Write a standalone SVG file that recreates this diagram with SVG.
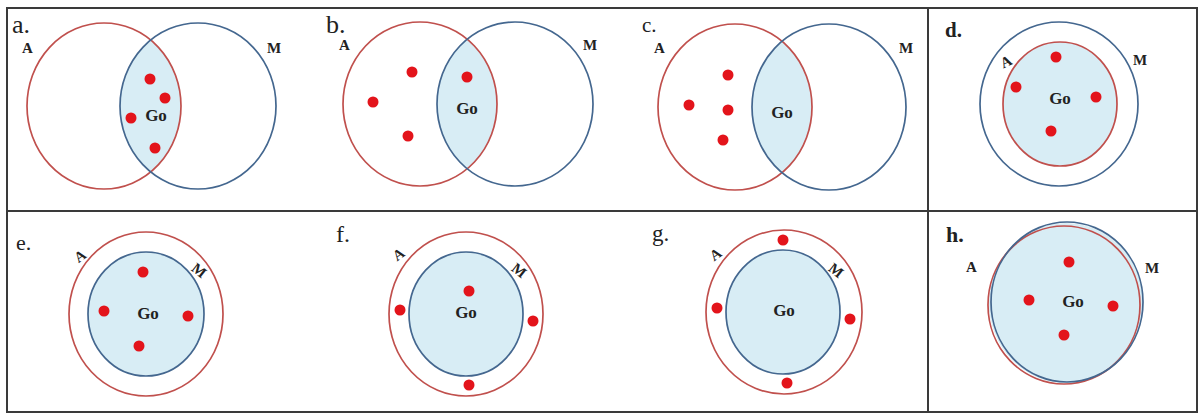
<svg xmlns="http://www.w3.org/2000/svg" width="1199" height="415" viewBox="0 0 1199 415">
<style>
.frame{fill:none;stroke:#3a3a3a;stroke-width:2}
.ra{fill:none;stroke:#c0504d;stroke-width:1.7}
.bm{fill:none;stroke:#44678f;stroke-width:1.7}
.fill{fill:#d8edf5;stroke:none}
.dot{fill:#e3141b}
.lbl{font-family:"Liberation Serif",serif;font-weight:bold;font-size:15px;fill:#222}
.go{font-family:"Liberation Serif",serif;font-weight:bold;font-size:17px;fill:#222;text-anchor:middle}
.pl{font-family:"Liberation Serif",serif;fill:#222}
</style>
<defs>
<clipPath id="ca"><ellipse cx="104" cy="106" rx="77" ry="83"/></clipPath>
<clipPath id="cb"><ellipse cx="420" cy="104" rx="77" ry="82"/></clipPath>
<clipPath id="cc"><ellipse cx="735" cy="107" rx="77" ry="83"/></clipPath>
</defs>
<rect width="1199" height="415" fill="#fff"/>
<g id="frame">
<rect class="frame" x="7" y="8" width="1190" height="404"/>
<line class="frame" x1="7" y1="211" x2="1197" y2="211"/>
<line class="frame" x1="928" y1="8" x2="928" y2="412"/>
</g>
<g id="panel-a">
<ellipse class="fill" cx="198" cy="106" rx="78" ry="83" clip-path="url(#ca)"/>
<ellipse class="ra" cx="104" cy="106" rx="77" ry="83"/>
<ellipse class="bm" cx="198" cy="106" rx="78" ry="83"/>
<text class="pl" x="12" y="33" font-size="26">a.</text>
<text class="lbl" x="22" y="53">A</text>
<text class="lbl" x="267" y="53">M</text>
<text class="go" x="156" y="121">Go</text>
<circle class="dot" cx="150" cy="79" r="5.5"/>
<circle class="dot" cx="165" cy="98" r="5.5"/>
<circle class="dot" cx="131" cy="118" r="5.5"/>
<circle class="dot" cx="155" cy="148" r="5.5"/>
</g>
<g id="panel-b">
<ellipse class="fill" cx="515" cy="104" rx="78" ry="82" clip-path="url(#cb)"/>
<ellipse class="ra" cx="420" cy="104" rx="77" ry="82"/>
<ellipse class="bm" cx="515" cy="104" rx="78" ry="82"/>
<text class="pl" x="326" y="33" font-size="26">b.</text>
<text class="lbl" x="339" y="50">A</text>
<text class="lbl" x="583" y="50">M</text>
<text class="go" x="467" y="114">Go</text>
<circle class="dot" cx="412" cy="72" r="5.5"/>
<circle class="dot" cx="373" cy="102" r="5.5"/>
<circle class="dot" cx="408" cy="136" r="5.5"/>
<circle class="dot" cx="467" cy="77" r="5.5"/>
</g>
<g id="panel-c">
<ellipse class="fill" cx="829" cy="107" rx="77" ry="83" clip-path="url(#cc)"/>
<ellipse class="ra" cx="735" cy="107" rx="77" ry="83"/>
<ellipse class="bm" cx="829" cy="107" rx="77" ry="83"/>
<text class="pl" x="642" y="32" font-size="21">c.</text>
<text class="lbl" x="654" y="53">A</text>
<text class="lbl" x="899" y="53">M</text>
<text class="go" x="782" y="118">Go</text>
<circle class="dot" cx="728" cy="75" r="5.5"/>
<circle class="dot" cx="689" cy="105" r="5.5"/>
<circle class="dot" cx="728" cy="110" r="5.5"/>
<circle class="dot" cx="723" cy="140" r="5.5"/>
</g>
<g id="panel-d">
<ellipse class="bm" cx="1059" cy="104" rx="79" ry="82"/>
<ellipse class="fill" cx="1060" cy="104" rx="57" ry="62"/>
<ellipse class="ra" cx="1060" cy="104" rx="57" ry="62"/>
<text class="pl" x="945" y="37" font-size="21" font-weight="bold">d.</text>
<text class="lbl" x="1000" y="66" transform="rotate(-25 1007 60)">A</text>
<text class="lbl" x="1133" y="65">M</text>
<text class="go" x="1060" y="104">Go</text>
<circle class="dot" cx="1056" cy="57" r="5.5"/>
<circle class="dot" cx="1016" cy="87" r="5.5"/>
<circle class="dot" cx="1096" cy="97" r="5.5"/>
<circle class="dot" cx="1051" cy="131" r="5.5"/>
</g>
<g id="panel-e">
<ellipse class="ra" cx="146" cy="314" rx="77" ry="82"/>
<ellipse class="fill" cx="146" cy="314" rx="58" ry="62"/>
<ellipse class="bm" cx="146" cy="314" rx="58" ry="62"/>
<text class="pl" x="16" y="250" font-size="22">e.</text>
<text class="lbl" x="74" y="261" transform="rotate(-35 80 255)">A</text>
<text class="lbl" x="192" y="276" transform="rotate(38 200 271)">M</text>
<text class="go" x="148" y="319">Go</text>
<circle class="dot" cx="143" cy="272" r="5.5"/>
<circle class="dot" cx="104" cy="311" r="5.5"/>
<circle class="dot" cx="188" cy="316" r="5.5"/>
<circle class="dot" cx="139" cy="346" r="5.5"/>
</g>
<g id="panel-f">
<ellipse class="ra" cx="466" cy="314" rx="77" ry="82"/>
<ellipse class="fill" cx="466" cy="314" rx="57" ry="62"/>
<ellipse class="bm" cx="466" cy="314" rx="57" ry="62"/>
<text class="pl" x="336" y="242" font-size="24">f.</text>
<text class="lbl" x="393" y="259" transform="rotate(-35 399 254)">A</text>
<text class="lbl" x="512" y="276" transform="rotate(38 520 271)">M</text>
<text class="go" x="466" y="318">Go</text>
<circle class="dot" cx="469" cy="291" r="5.5"/>
<circle class="dot" cx="400" cy="310" r="5.5"/>
<circle class="dot" cx="533" cy="321" r="5.5"/>
<circle class="dot" cx="469" cy="385" r="5.5"/>
</g>
<g id="panel-g">
<ellipse class="ra" cx="784" cy="312" rx="78" ry="82"/>
<ellipse class="fill" cx="783" cy="312" rx="57" ry="62"/>
<ellipse class="bm" cx="783" cy="312" rx="57" ry="62"/>
<text class="pl" x="652" y="241" font-size="23">g.</text>
<text class="lbl" x="710" y="259" transform="rotate(-35 716 254)">A</text>
<text class="lbl" x="829" y="276" transform="rotate(38 837 271)">M</text>
<text class="go" x="784" y="316">Go</text>
<circle class="dot" cx="783" cy="240" r="5.5"/>
<circle class="dot" cx="717" cy="308" r="5.5"/>
<circle class="dot" cx="850" cy="319" r="5.5"/>
<circle class="dot" cx="787" cy="383" r="5.5"/>
</g>
<g id="panel-h">
<ellipse class="fill" cx="1066" cy="303" rx="77" ry="80"/>
<ellipse class="ra" cx="1064" cy="305" rx="76" ry="79"/>
<ellipse class="bm" cx="1067" cy="302" rx="76" ry="80"/>
<text class="pl" x="946" y="242" font-size="22" font-weight="bold">h.</text>
<text class="lbl" x="966" y="272">A</text>
<text class="lbl" x="1145" y="273">M</text>
<text class="go" x="1073" y="307">Go</text>
<circle class="dot" cx="1069" cy="262" r="5.5"/>
<circle class="dot" cx="1029" cy="300" r="5.5"/>
<circle class="dot" cx="1113" cy="306" r="5.5"/>
<circle class="dot" cx="1064" cy="335" r="5.5"/>
</g>
</svg>
